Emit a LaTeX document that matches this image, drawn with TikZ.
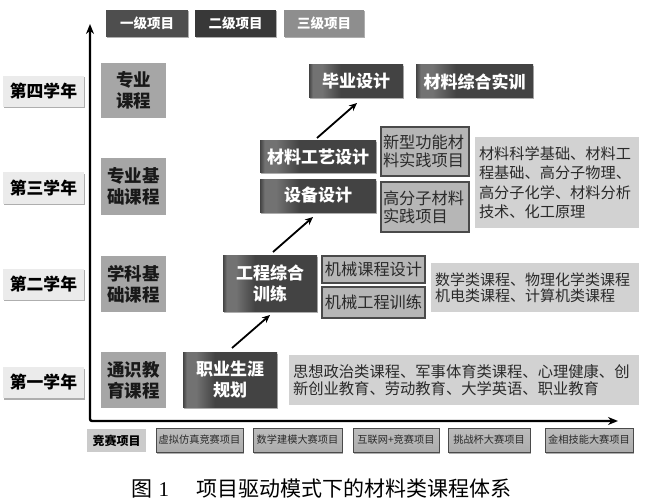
\documentclass[tikz,border=0pt]{standalone}
\usepackage{fontspec}
\setmainfont{Liberation Serif}
\newfontfamily\cjk{Noto Sans CJK SC}
\usetikzlibrary{shadows,arrows.meta,calc}
\definecolor{dkC}{HTML}{434343}
\definecolor{dkB}{HTML}{727272}
\definecolor{yearfill}{HTML}{EBEBEB}
\definecolor{coursefill}{HTML}{A6A6A6}
\definecolor{projfill}{HTML}{B6B6B6}
\definecolor{projline}{HTML}{4A4A4A}
\definecolor{txtfill}{HTML}{D2D2D2}
\definecolor{txtdark}{HTML}{2A2A2A}
\definecolor{lgA}{HTML}{4E4E4E}
\definecolor{lgB}{HTML}{383838}
\definecolor{lgC}{HTML}{8E8E8E}
\definecolor{compfill}{HTML}{ACACAC}
\definecolor{compgray}{HTML}{CBCBCB}
\definecolor{shad}{HTML}{9A9A9A}
\pgfdeclarehorizontalshading{darkbar}{100bp}{color(0bp)=(dkC); color(25bp)=(dkC); color(27bp)=(dkB); color(32bp)=(dkB); color(42bp)=(dkC); color(100bp)=(dkC)}
\begin{document}
\begin{tikzpicture}[x=1pt,y=-1pt,
  base/.style={inner sep=0pt, outer sep=0pt},
  shd/.style={drop shadow={shadow xshift=1pt, shadow yshift=-1.5pt, fill=shad, opacity=0.8}},
  yearbox/.style={base, shd, fill=yearfill, minimum width=81pt, minimum height=31pt, text=black,
    font=\cjk\bfseries\fontsize{16.8}{18}\selectfont},
  coursebox/.style={base, fill=coursefill, minimum width=65pt, align=center, text=black!90,
    font=\cjk\bfseries\fontsize{17.5}{21}\selectfont},
  darkbox/.style={base, shd, shading=darkbar, text=white, align=center,
    font=\cjk\bfseries\fontsize{17}{21}\selectfont},
  projbox/.style={base, fill=projfill, draw=projline, line width=1.2pt, text=txtdark,
    align=left, font=\cjk\fontsize{16.2}{18}\selectfont},
  textbox/.style={base, fill=txtfill, text=txtdark, align=left},
  legbox/.style={base, shd, minimum height=27pt, text=white, font=\cjk\bfseries\fontsize{13.5}{15}\selectfont},
  compbox/.style={base, shd, draw=projline, line width=1pt, top color=compfill!80, bottom color=compfill, minimum height=24pt,
    text=txtdark, font=\cjk\fontsize{10.2}{12}\selectfont},
  axis/.style={line width=2.4pt, black, rounded corners=2pt},
  flow/.style={line width=1.8pt, black, -{Stealth[length=8pt,width=7pt]}}
]
\useasboundingbox (0,0) rectangle (649,503);

% legend
\node[legbox, fill=lgA, minimum width=82pt] (lg1) at (147,23.5) {一级项目};
\node[legbox, fill=lgB, minimum width=81pt] (lg2) at (235.5,23.5) {二级项目};
\node[legbox, fill=lgC, minimum width=80pt] (lg3) at (324,23.5) {三级项目};

% axes
\coordinate (ytop) at (90,24);
\coordinate (orig) at (90,421);
\coordinate (xend) at (618,421);
\draw[axis, {Stealth[length=10pt,width=8pt]}-{Stealth[length=10pt,width=8pt]}] (ytop) -- (orig) -- (xend);

% year labels
\node[yearbox] (y4) at (43.5,91.5) {第四学年};
\node[yearbox] (y3) at (43.5,188) {第三学年};
\node[yearbox] (y2) at (43.5,284) {第二学年};
\node[yearbox] (y1) at (43.5,382.5) {第一学年};

% course categories
\node[coursebox, minimum height=55pt] (c4) at (133.5,90.5) {专业\\课程};
\node[coursebox, minimum height=57pt] (c3) at (133.5,186.5) {专业基\\础课程};
\node[coursebox, minimum height=56pt] (c2) at (133.5,284) {学科基\\础课程};
\node[coursebox, minimum height=56pt] (c1) at (133.5,380) {通识教\\育课程};

% dark project nodes
\node[darkbox, minimum width=94pt, minimum height=55pt] (zy) at (230,379.5) {职业生涯\\规划};
\node[darkbox, minimum width=94pt, minimum height=56pt] (gc) at (270,283) {工程综合\\训练};
\node[darkbox, minimum width=116pt, minimum height=32pt] (gy) at (318,157) {材料工艺设计};
\node[darkbox, minimum width=116pt, minimum height=33pt] (sb) at (318,195.5) {设备设计};
\node[darkbox, minimum width=94pt, minimum height=33pt] (by) at (356,81.5) {毕业设计};
\node[darkbox, minimum width=117pt, minimum height=33pt] (zs) at (474.5,81.5) {材料综合实训};

% practice projects
\node[projbox, minimum width=88pt, minimum height=49pt, text width=84pt] (xx) at (425,151.5) {新型功能材\\料实践项目};
\node[projbox, minimum width=88pt, minimum height=50pt, text width=84pt] (gf) at (425,207) {高分子材料\\实践项目};
\node[projbox, minimum width=103pt, minimum height=27pt] (jk) at (373.5,269.5) {机械课程设计};
\node[projbox, minimum width=103pt, minimum height=31pt] (jg) at (373.5,302.5) {机械工程训练};

% course lists
\node[textbox, minimum width=164pt, minimum height=91pt, text width=156pt,
  font=\cjk\fontsize{15.2}{19.5}\selectfont] (t3) at (557,182.5)
  {材料科学基础、材料工\\程基础、高分子物理、\\高分子化学、材料分析\\技术、化工原理};
\node[textbox, minimum width=208pt, minimum height=49pt, text width=200pt,
  font=\cjk\fontsize{15}{16.5}\selectfont] (t2) at (535,287.5)
  {数学类课程、物理化学类课程\\机电类课程、计算机类课程};
\node[textbox, minimum width=350pt, minimum height=50pt, text width=342pt,
  font=\cjk\fontsize{15.3}{17}\selectfont] (t1) at (464,380)
  {思想政治类课程、军事体育类课程、心理健康、创\\新创业教育、劳动教育、大学英语、职业教育};

% flow arrows
\draw[flow] ([xshift=2pt,yshift=4pt]zy.north) -- ([yshift=-4pt]gc.south);
\draw[flow] ([xshift=3pt,yshift=3pt]gc.north) -- ([xshift=-5pt,yshift=-5pt]sb.south);
\draw[flow] ([xshift=-1pt,yshift=3pt]gy.north) -- ([xshift=1pt,yshift=-5pt]by.south);

% competitions
\node[base, fill=compgray, minimum width=59pt, minimum height=23pt, text=black,
  font=\cjk\bfseries\fontsize{12}{14}\selectfont] (b0) at (116.5,440.5) {竞赛项目};
\node[compbox, minimum width=87pt] (b1) at (199.5,440) {虚拟仿真竞赛项目};
\node[compbox, minimum width=89pt] (b2) at (297.5,440) {数学建模大赛项目};
\node[compbox, minimum width=86pt] (b3) at (396,440) {互联网+竞赛项目};
\node[compbox, minimum width=82pt] (b4) at (489,440) {挑战杯大赛项目};
\node[compbox, minimum width=88pt] (b5) at (589,440) {金相技能大赛项目};

% caption
\node[base, font=\cjk\fontsize{21}{21}\selectfont, text=black] (cap) at (321.5,488)
  {图\hspace{6pt}{\rmfamily 1}\hspace{27pt}项目驱动模式下的材料类课程体系};
\end{tikzpicture}
\end{document}
